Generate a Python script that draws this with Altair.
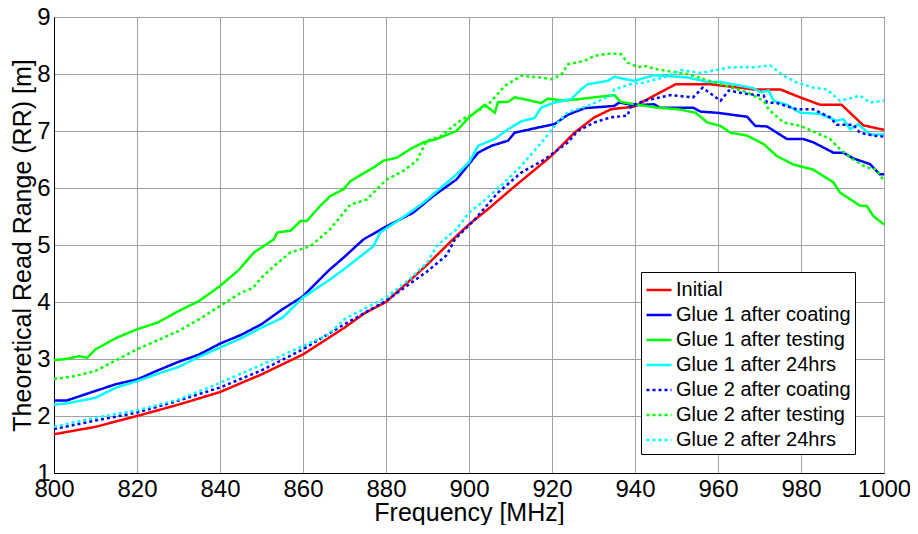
import altair as alt
import pandas as pd

series_names = ["Initial", "Glue 1 after coating", "Glue 1 after testing", "Glue 1 after 24hrs",
                "Glue 2 after coating", "Glue 2 after testing", "Glue 2 after 24hrs"]
series_colors = ["#ff0000", "#0000ff", "#00ff00", "#00ffff", "#0000ff", "#00ff00", "#00ffff"]
series_dash = [[1, 0], [1, 0], [1, 0], [1, 0], [3, 3], [3, 3], [3, 3]]

x_ticks = [800, 820, 840, 860, 880, 900, 920, 940, 960, 980, 1000]
y_ticks = [1, 2, 3, 4, 5, 6, 7, 8, 9]

f_initial = [800, 810, 820, 830, 840, 850, 860, 870, 875, 880, 890, 897, 900, 904.6, 910.2, 919.8,
             925.4, 930.2, 934.2, 939.8, 944.6, 949.8, 958.2, 968.6, 975, 979.8, 984.6, 989.8, 995, 1000]
v_initial = [1.68, 1.81, 2.0, 2.2, 2.42, 2.73, 3.08, 3.55, 3.81, 4.0, 4.66, 5.16, 5.36, 5.63, 5.98, 6.56,
             6.97, 7.24, 7.38, 7.43, 7.62, 7.82, 7.82, 7.73, 7.73, 7.59, 7.46, 7.46, 7.10, 7.02]

f_g1_coat = [800, 803, 810, 815, 820, 825, 830, 835, 840, 845, 850, 855, 860, 866, 869.8, 874.6, 880.2,
             886.6, 891.4, 897, 902.2, 905.4, 909.4, 911, 916.6, 920.6, 923.7, 927.8, 935, 936.2, 939.8,
             944.6, 946, 954, 955.8, 959.8, 967, 969, 971.8, 976.6, 980.6, 983, 987.8, 990.2, 992.6,
             996.6, 999, 1000]
v_g1_coat = [2.27, 2.27, 2.44, 2.56, 2.64, 2.8, 2.95, 3.08, 3.27, 3.42, 3.61, 3.87, 4.1, 4.54, 4.78, 5.1,
             5.33, 5.57, 5.86, 6.15, 6.62, 6.74, 6.83, 6.97, 7.06, 7.12, 7.28, 7.4, 7.44, 7.5, 7.45, 7.47,
             7.41, 7.41, 7.34, 7.32, 7.25, 7.09, 7.08, 6.86, 6.86, 6.8, 6.62, 6.62, 6.52, 6.42, 6.24, 6.24]

f_g1_test = [800, 803, 806, 808, 810, 815, 820, 825, 830, 835, 840, 844.5, 848.2, 853, 853.8, 857, 859.4,
             860.9, 864.2, 866.6, 869.8, 871.4, 877, 879.4, 882.6, 885.8, 889, 892.2, 897, 900, 903.8,
             906.2, 907, 909.4, 911, 915, 917.4, 919, 922.9, 935, 936.6, 939.8, 945.4, 950.6, 954.6,
             957.4, 960.6, 963, 967, 971, 974.2, 978.2, 983, 987.8, 989.4, 994.2, 995.8, 997.4, 1000]
v_g1_test = [2.98, 3.0, 3.05, 3.02, 3.17, 3.37, 3.52, 3.64, 3.84, 4.02, 4.28, 4.56, 4.87, 5.1, 5.22, 5.25,
             5.42, 5.42, 5.69, 5.86, 5.98, 6.12, 6.36, 6.48, 6.53, 6.68, 6.8, 6.86, 7.0, 7.24, 7.46, 7.32,
             7.51, 7.51, 7.59, 7.53, 7.49, 7.57, 7.53, 7.63, 7.51, 7.47, 7.41, 7.38, 7.32, 7.15, 7.09,
             6.97, 6.92, 6.77, 6.56, 6.41, 6.32, 6.1, 5.92, 5.69, 5.69, 5.51, 5.36]

f_g1_24 = [800, 803, 810, 815, 820, 825, 830, 835, 840, 845, 850, 855, 860, 866, 869.8, 877, 878.6, 883.4,
           889, 897, 900, 902.2, 906.2, 909.4, 912.6, 915.8, 917.4, 920.6, 924.6, 927, 928.6, 933.4, 935,
           939.8, 944.6, 952.6, 957.4, 960.6, 968.6, 970.2, 972.2, 973.4, 976.6, 979.8, 984.6, 988.6,
           990.2, 991.8, 993.8, 996.6, 1000]
v_g1_24 = [2.2, 2.22, 2.32, 2.5, 2.61, 2.74, 2.86, 3.04, 3.2, 3.36, 3.55, 3.72, 4.08, 4.37, 4.57, 4.98,
           5.22, 5.45, 5.74, 6.24, 6.45, 6.74, 6.86, 7.03, 7.17, 7.23, 7.41, 7.5, 7.56, 7.73, 7.82, 7.88,
           7.95, 7.88, 7.98, 7.94, 7.86, 7.86, 7.75, 7.68, 7.71, 7.53, 7.46, 7.32, 7.3, 7.18, 7.21, 7.03,
           7.12, 6.94, 6.94]

f_g2_coat = [800, 810, 820, 830, 840, 850, 860, 870, 880, 890, 894.6, 896.6, 901.4, 907, 912.6, 918.2,
             923.8, 926.2, 930.2, 934.2, 938.2, 939, 942.2, 948.6, 954, 956.3, 960.6, 962.6, 967, 971,
             971.8, 974.2, 979, 983, 987, 988.6, 992.6, 994.2, 997.4, 1000]
v_g2_coat = [1.77, 1.92, 2.06, 2.27, 2.5, 2.8, 3.17, 3.61, 4.02, 4.54, 4.82, 5.1, 5.45, 5.92, 6.27, 6.5,
             6.8, 7.0, 7.15, 7.24, 7.27, 7.44, 7.53, 7.63, 7.59, 7.76, 7.53, 7.71, 7.65, 7.62, 7.5, 7.49,
             7.38, 7.38, 7.24, 7.11, 7.11, 6.97, 6.92, 6.9]

f_g2_test = [800, 805, 810, 815, 820, 825, 830, 835, 840, 845, 848, 850, 853, 857, 861.8, 866.6, 871.4,
             875.4, 877.8, 880.2, 884.2, 887.4, 889.8, 893, 898.2, 901.4, 904.6, 908.6, 912.6, 917.4,
             919.8, 922.2, 923.8, 927.8, 930.2, 934.2, 936.6, 938.2, 940.6, 943, 944.6, 952.6, 960.6, 967,
             971, 972.2, 975.8, 979.8, 983.7, 987, 989.4, 992.6, 995.8, 998.2, 1000]
v_g2_test = [2.65, 2.7, 2.79, 2.98, 3.17, 3.33, 3.49, 3.7, 3.93, 4.16, 4.25, 4.43, 4.63, 4.87, 4.98, 5.28,
             5.71, 5.8, 5.98, 6.15, 6.3, 6.48, 6.83, 6.9, 7.2, 7.32, 7.46, 7.79, 7.97, 7.94, 7.91, 7.98,
             8.17, 8.23, 8.32, 8.36, 8.35, 8.2, 8.12, 8.14, 8.09, 8.0, 7.82, 7.68, 7.53, 7.38, 7.15, 7.09,
             6.97, 6.86, 6.68, 6.5, 6.36, 6.33, 6.12]

f_g2_24 = [800, 810, 820, 830, 840, 850, 860, 866, 870, 880, 886, 890, 892.2, 897, 900, 903, 908.6, 912.6,
           918.2, 920.6, 923.8, 928.6, 934.2, 935, 939, 942.2, 947.8, 951, 955.8, 959, 963, 968.6, 972.6,
           975.8, 979, 983, 986.2, 989.4, 994.2, 996.6, 1000]
v_g2_24 = [1.81, 1.97, 2.1, 2.29, 2.58, 2.9, 3.23, 3.42, 3.7, 4.08, 4.42, 4.7, 4.98, 5.28, 5.57, 5.74, 6.1,
           6.39, 6.86, 7.09, 7.33, 7.44, 7.62, 7.73, 7.82, 7.85, 7.96, 8.07, 8.02, 8.06, 8.12, 8.12, 8.15,
           7.97, 7.85, 7.76, 7.73, 7.53, 7.62, 7.5, 7.53]

all_f = [f_initial, f_g1_coat, f_g1_test, f_g1_24, f_g2_coat, f_g2_test, f_g2_24]
all_v = [v_initial, v_g1_coat, v_g1_test, v_g1_24, v_g2_coat, v_g2_test, v_g2_24]

rows = []
for name, fs, vs in zip(series_names, all_f, all_v):
    for f, v in zip(fs, vs):
        rows.append({"series": name, "freq": f, "rr": v})
df = pd.DataFrame(rows)

FONT = "Liberation Sans"

chart = alt.Chart(df).mark_line(strokeWidth=2.5, strokeCap="butt").encode(
    x=alt.X("freq:Q",
            scale=alt.Scale(domain=[800, 1000], nice=False, zero=False),
            axis=alt.Axis(values=x_ticks, format="d", title="Frequency [MHz]", labelFlush=False,
                          labelPadding=4, titleY=47, titleBaseline="alphabetic")),
    y=alt.Y("rr:Q",
            scale=alt.Scale(domain=[1, 9], nice=False, zero=False),
            axis=alt.Axis(values=y_ticks, title="Theoretical Read Range (RR) [m]", labelFlush=False,
                          labelPadding=4, titleX=-24, titleY=228, titleBaseline="alphabetic",
                          titleAlign="center", titleAngle=270)),
    color=alt.Color("series:N", sort=series_names,
                    scale=alt.Scale(domain=series_names, range=series_colors),
                    legend=alt.Legend(title=None)),
    strokeDash=alt.StrokeDash("series:N", sort=series_names,
                              scale=alt.Scale(domain=series_names, range=series_dash),
                              legend=alt.Legend(title=None)),
).properties(
    width=830, height=456,
    autosize="none",
    padding={"left": 46, "top": 9, "right": 26, "bottom": 52},
).configure_view(
    stroke="black", strokeWidth=1
).configure_axis(
    labelFont=FONT, labelFontSize=24, labelColor="black",
    titleFont=FONT, titleFontSize=25, titleColor="black", titleFontWeight="normal",
    gridColor="#a0a0a0", gridWidth=1, gridOpacity=1,
    domainColor="black", domainWidth=1, ticks=False,
).configure_legend(
    orient="none", legendX=587, legendY=255,
    fillColor="white", strokeColor="black", strokeWidth=1, padding=4, cornerRadius=0,
    labelFont=FONT, labelFontSize=20, labelColor="black", labelLimit=0, labelOffset=3,
    symbolType="stroke", symbolSize=625, symbolStrokeWidth=2.5, rowPadding=1,
)

chart.save("out.html", embed_options={"renderer": "svg", "actions": False})
